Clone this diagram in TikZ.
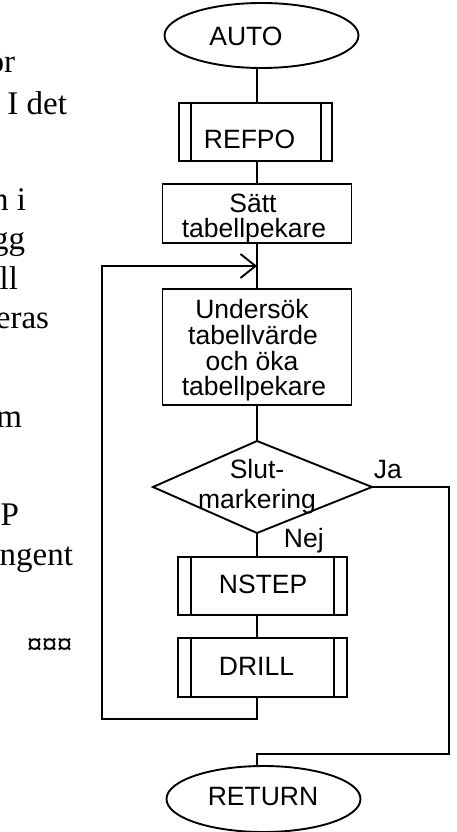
\documentclass[tikz,border=0pt]{standalone}
\usepackage{fontspec}
\setmainfont{Liberation Serif}
\newfontfamily\flowfont{Liberation Sans}
\usetikzlibrary{shapes.geometric,arrows.meta}
\begin{document}
\begin{tikzpicture}[x=1pt,y=-1pt,
  line width=1.9pt, line join=miter,
  ft/.style={font=\flowfont\fontsize{26.5}{27}\selectfont, inner sep=0pt},
  lt/.style={font=\fontsize{33}{40}\selectfont, inner sep=0pt, anchor=base east},
  term/.style={draw, ellipse, minimum width=194pt, minimum height=65pt, inner sep=0pt},
  box/.style={draw, rectangle, inner sep=0pt},
  sub/.style={box, minimum width=168.4pt, minimum height=58.3pt},
  barb/.style={-{Straight Barb[length=15pt,width=24pt,line width=1.9pt]}},
]
\useasboundingbox (0,0) rectangle (456,832);
\clip (0,0) rectangle (456,832);

% left page text fragments
\node[lt] (l1) at (16,73) {ör};
\node[lt] (l2) at (68,114) {I det};
\node[lt] (l3) at (27,210) {n i};
\node[lt] (l4) at (26,249) {gg};
\node[lt] (l5) at (19,289) {ll};
\node[lt] (l6) at (50,328) {eras};
\node[lt] (l7) at (23,427) {m};
\node[lt] (l8) at (20,525) {P};
\node[lt] (l9) at (74,565) {ngent};
\node[lt, font=\bfseries\fontsize{30}{40}\selectfont] (l10) at (73,654) {¤¤¤};

% flowchart
\node[term] (auto) at (261.5,35.5) {};
\node[ft, anchor=base] (autoT) at (246,46) {AUTO};

\node[box, minimum width=153pt, minimum height=57.7pt] (refpo) at (255.8,132.2) {};
\draw ([xshift=12.5pt]refpo.north west) -- ([xshift=12.5pt]refpo.south west);
\draw ([xshift=-12.5pt]refpo.north east) -- ([xshift=-12.5pt]refpo.south east);
\node[ft, anchor=base west] (refpoT) at (203,148) {REFPO};

\node[box, minimum width=189pt, minimum height=59pt] (satt) at (257,213.5) {};
\node[ft, anchor=base] (sattT1) at (253,212) {Sätt};
\node[ft, anchor=base] (sattT2) at (254,237) {tabellpekare};

\coordinate (join) at (257,266);

\node[box, minimum width=189pt, minimum height=116pt] (und) at (257,347) {};
\node[ft, anchor=base] (undT1) at (252,318) {Undersök};
\node[ft, anchor=base] (undT2) at (253,344) {tabellvärde};
\node[ft, anchor=base] (undT3) at (252,370) {och öka};
\node[ft, anchor=base] (undT4) at (254,395) {tabellpekare};

\coordinate (dt) at (257,441);
\coordinate (dr) at (372,487);
\coordinate (db) at (257,533);
\coordinate (dl) at (153,487);
\draw (dt) -- (dr) -- (db) -- (dl) -- cycle;
\node[ft, anchor=base] (slut1) at (257,478) {Slut-};
\node[ft, anchor=base] (slut2) at (257,508) {markering};
\node[ft, anchor=base west] (ja) at (373,478) {Ja};
\node[ft, anchor=base west] (nej) at (283,547) {Nej};

\node[sub] (nstep) at (262.5,585.8) {};
\draw ([xshift=13.5pt]nstep.north west) -- ([xshift=13.5pt]nstep.south west);
\draw ([xshift=-13.5pt]nstep.north east) -- ([xshift=-13.5pt]nstep.south east);
\node[ft, anchor=base west] (nstepT) at (218,593) {NSTEP};

\node[sub] (drill) at (262.5,667.5) {};
\draw ([xshift=13.5pt]drill.north west) -- ([xshift=13.5pt]drill.south west);
\draw ([xshift=-13.5pt]drill.north east) -- ([xshift=-13.5pt]drill.south east);
\node[ft, anchor=base west] (drillT) at (218,675) {DRILL};

\node[term, minimum height=66pt] (ret) at (263.5,799) {};
\node[ft, anchor=base] (retT) at (263,805) {RETURN};

\coordinate (lbr) at (257,719);
\coordinate (lb) at (102,719);
\coordinate (ltop) at (102,266);
\coordinate (jr) at (449,487);
\coordinate (jb) at (449,754);
\coordinate (rt) at (257,754);

% connectors
\draw (auto.south -| satt.north) -- (refpo.north -| satt.north);
\draw (refpo.south -| satt.north) -- (satt.north);
\draw (satt.south) -- (und.north);
\draw (und.south) -- (dt);
\draw (db) -- (nstep.north -| db);
\draw (nstep.south -| db) -- (drill.north -| db);
\draw[barb] (drill.south -| lbr) -- (lbr) -- (lb) -- (ltop) -- (join);
\draw (dr) -- (jr) -- (jb) -- (rt) -- (ret.north -| rt);
\end{tikzpicture}
\end{document}
